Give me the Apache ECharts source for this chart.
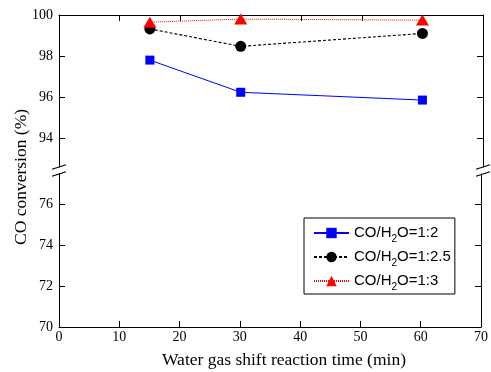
<!DOCTYPE html>
<html><head><meta charset="utf-8">
<script src="https://cdn.jsdelivr.net/npm/echarts@6/dist/echarts.min.js"></script>
<style>html,body{margin:0;padding:0;background:#fff}#c{width:491px;height:372px}</style>
</head><body><div id="c"></div>
<script>
// ---- data ----
const time = [15, 30, 60];
const ratio_1_2 = [97.8, 96.23, 95.85];
const ratio_1_2_5 = [99.32, 98.47, 99.1];
const ratio_1_3 = [99.65, 99.8, 99.75];
const seriesNames = ['CO/H2O=1:2', 'CO/H2O=1:2.5', 'CO/H2O=1:3'];
const xTicks = [0, 10, 20, 30, 40, 50, 60, 70];
const upperTicks = [94, 96, 98, 100];
const lowerTicks = [70, 72, 74, 76];
const xTitle = 'Water gas shift reaction time (min)';
const yTitle = 'CO conversion (%)';

const serif = 'Liberation Serif';
const sans = 'Liberation Sans';
const G = {left: 59, width: 424, top1: 15, h1: 152, top2: 174, h2: 153};

const chart = echarts.init(document.getElementById('c'), null, {renderer: 'canvas'});
const axLine = {show: true, lineStyle: {color: '#000', width: 1}};
const tickIn = (vals) => ({show: true, inside: true, length: 6, lineStyle: {color: '#000', width: 1}, customValues: vals});
const toPairs = (vals) => time.map((t, i) => [t, vals[i]]);

function yAxisDef(grid, pos, min, max, ticks, showLabel) {
  return {
    gridIndex: grid, type: 'value', position: pos, min: min, max: max,
    axisLine: axLine,
    axisTick: tickIn(showLabel ? ticks : ticks.filter(v => v !== 100)),
    axisLabel: {show: showLabel, customValues: ticks, color: '#000', fontFamily: serif, fontSize: 14, margin: 6},
    splitLine: {show: false}
  };
}

const option = {
  animation: false,
  backgroundColor: '#fff',
  grid: [
    {left: G.left, width: G.width, top: G.top1, height: G.h1},
    {left: G.left, width: G.width, top: G.top2, height: G.h2}
  ],
  xAxis: [
    {gridIndex: 0, type: 'value', position: 'top', min: 0, max: 70, interval: 10,
     axisLine: axLine, axisTick: {show: true, inside: true, length: 6, lineStyle: {color: '#000'}},
     axisLabel: {show: false}, splitLine: {show: false}},
    {gridIndex: 1, type: 'value', position: 'bottom', min: 0, max: 70, interval: 10,
     axisLine: axLine, axisTick: {show: true, inside: true, length: 6, lineStyle: {color: '#000'}},
     axisLabel: {color: '#000', fontFamily: serif, fontSize: 14, margin: 3}, splitLine: {show: false}}
  ],
  yAxis: [
    yAxisDef(0, 'left', 92.585, 100, upperTicks, true),
    yAxisDef(0, 'right', 92.585, 100, upperTicks, false),
    yAxisDef(1, 'left', 70, 77.48, lowerTicks, true),
    yAxisDef(1, 'right', 70, 77.48, lowerTicks, false)
  ],
  legend: {
    orient: 'vertical', left: 304, top: 218,
    padding: [4, 4, 2, 9], itemGap: 2, itemWidth: 35, itemHeight: 13,
    borderColor: '#000', borderWidth: 1, borderRadius: 0, backgroundColor: '#fff',
    data: seriesNames,
    formatter: n => '{a|CO/H}{s|2}{a|' + n.slice(5) + '}',
    textStyle: {
      rich: {
        a: {fontFamily: sans, fontSize: 15, color: '#000', lineHeight: 22, verticalAlign: 'middle'},
        s: {fontFamily: sans, fontSize: 10, color: '#000', lineHeight: 10, padding: [12, 0, 0, 0], verticalAlign: 'middle'}
      }
    }
  },
  series: [
    {name: seriesNames[0], type: 'line', xAxisIndex: 0, yAxisIndex: 0, data: toPairs(ratio_1_2),
     symbol: 'rect', symbolSize: 9, color: '#0000ff',
     lineStyle: {color: '#0000ff', width: 1, type: 'solid'}, itemStyle: {color: '#0000ff'}},
    {name: seriesNames[1], type: 'line', xAxisIndex: 0, yAxisIndex: 0, data: toPairs(ratio_1_2_5),
     symbol: 'circle', symbolSize: 11, color: '#000',
     lineStyle: {color: '#000', width: 1.1, type: [3, 2]}, itemStyle: {color: '#000'}},
    {name: seriesNames[2], type: 'line', xAxisIndex: 0, yAxisIndex: 0, data: toPairs(ratio_1_3),
     symbol: 'triangle', symbolSize: [13, 11], color: '#ff0000', clip: false,
     lineStyle: {color: '#ff0000', width: 1, type: [1, 1]}, itemStyle: {color: '#ff0000'}}
  ],
  graphic: []
};
chart.setOption(option);

// axis-break marks and axis titles
const xl = G.left, xr = G.left + G.width;
const yb1 = G.top1 + G.h1, yt2 = G.top2;
const slash = (cx, cy) => ({type: 'line', shape: {x1: cx - 7, y1: cy + 2.2, x2: cx + 7, y2: cy - 2.2},
  style: {stroke: '#000', lineWidth: 1.2}, z: 100});
chart.setOption({graphic: [
  slash(xl, yb1), slash(xl, yt2), slash(xr, yb1), slash(xr, yt2),
  {type: 'text', x: 284, y: 360, z: 100,
   style: {text: xTitle, fontFamily: serif, fontSize: 17.5, fill: '#000', align: 'center', verticalAlign: 'middle'}},
  {type: 'text', x: 21, y: 177, rotation: Math.PI / 2, z: 100,
   style: {text: yTitle, fontFamily: serif, fontSize: 17.5, fill: '#000', align: 'center', verticalAlign: 'middle'}}
]});
</script></body></html>
